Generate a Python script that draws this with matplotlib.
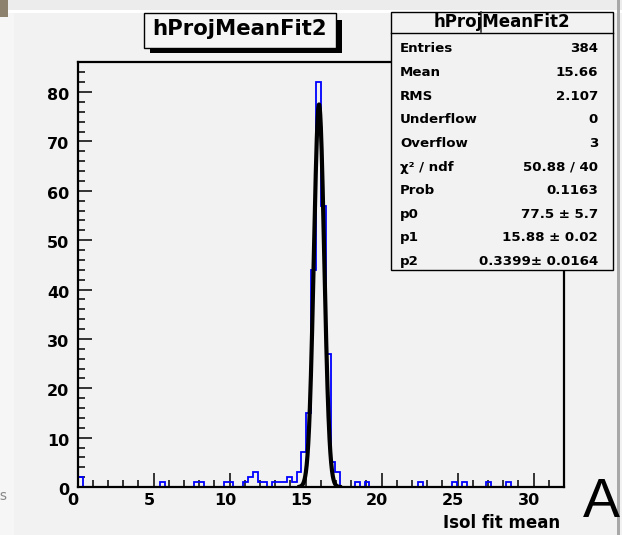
import numpy as np
import matplotlib.pyplot as plt
import matplotlib.transforms as mtransforms
from matplotlib.patches import Rectangle
from matplotlib.lines import Line2D

W, H = 622, 535

# histogram binning (100 bins over 0..32)
n_bins = 100
x_lo, x_hi = 0.0, 32.0

# non-empty bins
filled_bins = [0, 17, 24, 25, 30, 31, 34, 35, 36, 37, 38, 40, 41, 42, 43, 44,
               45, 46, 47, 48, 49, 50, 51, 52, 53, 57, 59, 70, 77, 79, 84, 88]
filled_counts = [2, 1, 1, 1, 1, 1, 1, 2, 3, 1, 1, 1, 1, 1, 2, 1,
                 3, 7, 15, 44, 82, 57, 27, 5, 3, 1, 1, 1, 1, 1, 1, 1]

# gaussian fit result
fit_p0, fit_p1, fit_p2 = 77.5, 15.88, 0.3399
fit_range = (14.6, 17.25)

hist_name = 'hProjMeanFit2'
x_title = 'Isol fit mean'
stat_names = ['Entries', 'Mean', 'RMS', 'Underflow', 'Overflow',
              'χ² / ndf', 'Prob', 'p0', 'p1', 'p2']
stat_values = ['384', '15.66', '2.107', '0', '3',
               '50.88 / 40', '0.1163', '77.5 ± 5.7', '15.88 ± 0.02',
               '0.3399± 0.0164']

x_major = [0, 5, 10, 15, 20, 25, 30]
y_major = [0, 10, 20, 30, 40, 50, 60, 70, 80]


def fx(px):
    return px / W


def fy(py):
    return 1 - py / H


bg = '#f2f2f2'
fig = plt.figure(figsize=(W / 100, H / 100), dpi=100, facecolor=bg)

# screenshot decorations
fig.add_artist(Rectangle((0, fy(10)), 1, 10 / H, transform=fig.transFigure,
                         facecolor='#ececec', edgecolor='none', zorder=-5))
fig.add_artist(Rectangle((0, fy(13)), 1, 3 / H, transform=fig.transFigure,
                         facecolor='white', edgecolor='none', zorder=-4))
fig.add_artist(Rectangle((0, fy(17)), fx(8), 17 / H, transform=fig.transFigure,
                         facecolor='#8c826e', edgecolor='none', zorder=-3))
fig.add_artist(Rectangle((0, 0), fx(14), fy(13), transform=fig.transFigure,
                         facecolor='#f6f6f6', edgecolor='none', zorder=-4))
fig.add_artist(Rectangle((fx(617), 0), 3 / W, 1, transform=fig.transFigure,
                         facecolor='#a8a8a8', edgecolor='none', zorder=6))
fig.text(fx(8), fy(496), 'ps', ha='right', va='center', fontsize=10,
         color='#888888')
fig.text(fx(583), fy(517), 'A', ha='left', va='baseline', fontsize=40,
         family='Liberation Sans', color='black', zorder=7)

# main frame
ax = fig.add_axes([fx(77.7), fy(487), (564 - 77.7) / W, (487 - 62) / H])
ax.set_facecolor(bg)

edges = np.linspace(x_lo, x_hi, n_bins + 1)
counts = np.zeros(n_bins)
counts[filled_bins] = filled_counts
ax.stairs(counts, edges, color='#0000ff', lw=1.3, zorder=2)

xf = np.linspace(fit_range[0], fit_range[1], 200)
yf = fit_p0 * np.exp(-0.5 * ((xf - fit_p1) / fit_p2) ** 2)
ax.plot(xf, yf, color='black', lw=3.0, zorder=3)

ax.set_xlim(x_lo, x_hi)
ax.set_ylim(0, 1.05 * max(filled_counts))

ax.set_xticks(x_major)
ax.set_xticks(np.arange(0, 33, 1), minor=True)
ax.set_yticks(y_major)
ax.set_yticks(np.arange(0, 86, 2), minor=True)
ax.tick_params(which='both', direction='in', top=False, right=False,
               width=1.1, color='black')
ax.tick_params(which='major', length=10, labelsize=11.5)
ax.tick_params(axis='x', which='major', pad=4)
ax.tick_params(axis='y', which='major', pad=6)
ax.tick_params(which='minor', length=5)
for lab in ax.get_xticklabels() + ax.get_yticklabels():
    lab.set_fontweight('bold')
shift = mtransforms.ScaledTranslation(-4.5 / 100, 0, fig.dpi_scale_trans)
for lab in ax.get_xticklabels():
    lab.set_transform(lab.get_transform() + shift)
shift_y = mtransforms.ScaledTranslation(0, -2 / 100, fig.dpi_scale_trans)
for lab in ax.get_yticklabels():
    lab.set_transform(lab.get_transform() + shift_y)

for s in ax.spines.values():
    s.set_linewidth(1.6)
    s.set_color('black')

fig.text(fx(560), fy(528), x_title, ha='right', va='baseline',
         fontsize=12, fontweight='bold')

# title box with shadow
fig.add_artist(Rectangle((fx(150), fy(53.3)), (342 - 150) / W, (53.3 - 20) / H,
                         transform=fig.transFigure, facecolor='black',
                         edgecolor='none', zorder=5))
fig.add_artist(Rectangle((fx(144), fy(48.3)), (336 - 144) / W, (48.3 - 12.7) / H,
                         transform=fig.transFigure, facecolor='#f5f5f5',
                         edgecolor='black', lw=1.0, zorder=6))
fig.text(fx(240), fy(29), hist_name, ha='center', va='center',
         fontsize=15.3, fontweight='bold', zorder=7)

# stats box
fig.add_artist(Rectangle((fx(391), fy(270)), (613 - 391) / W, (270 - 11.7) / H,
                         transform=fig.transFigure, facecolor=bg,
                         edgecolor='black', lw=1.0, zorder=6))
fig.add_artist(Line2D([fx(391), fx(613)], [fy(32.7), fy(32.7)],
                      transform=fig.transFigure, color='black', lw=1.0, zorder=7))
fig.add_artist(Line2D([fx(480.5), fx(480.5)], [fy(11.7), fy(32)],
                      transform=fig.transFigure, color='#333333', lw=1.2, zorder=7))
fig.text(fx(502), fy(22), hist_name, ha='center', va='center',
         fontsize=12, fontweight='bold', zorder=8)
for i, (name, val) in enumerate(zip(stat_names, stat_values)):
    yy = 49 + 23.6 * i
    fig.text(fx(400), fy(yy), name, ha='left', va='center', fontsize=9.6,
             fontweight='bold', zorder=8)
    fig.text(fx(598), fy(yy), val, ha='right', va='center', fontsize=9.6,
             fontweight='bold', zorder=8)

fig.savefig('out.png', dpi=100, facecolor=fig.get_facecolor())
